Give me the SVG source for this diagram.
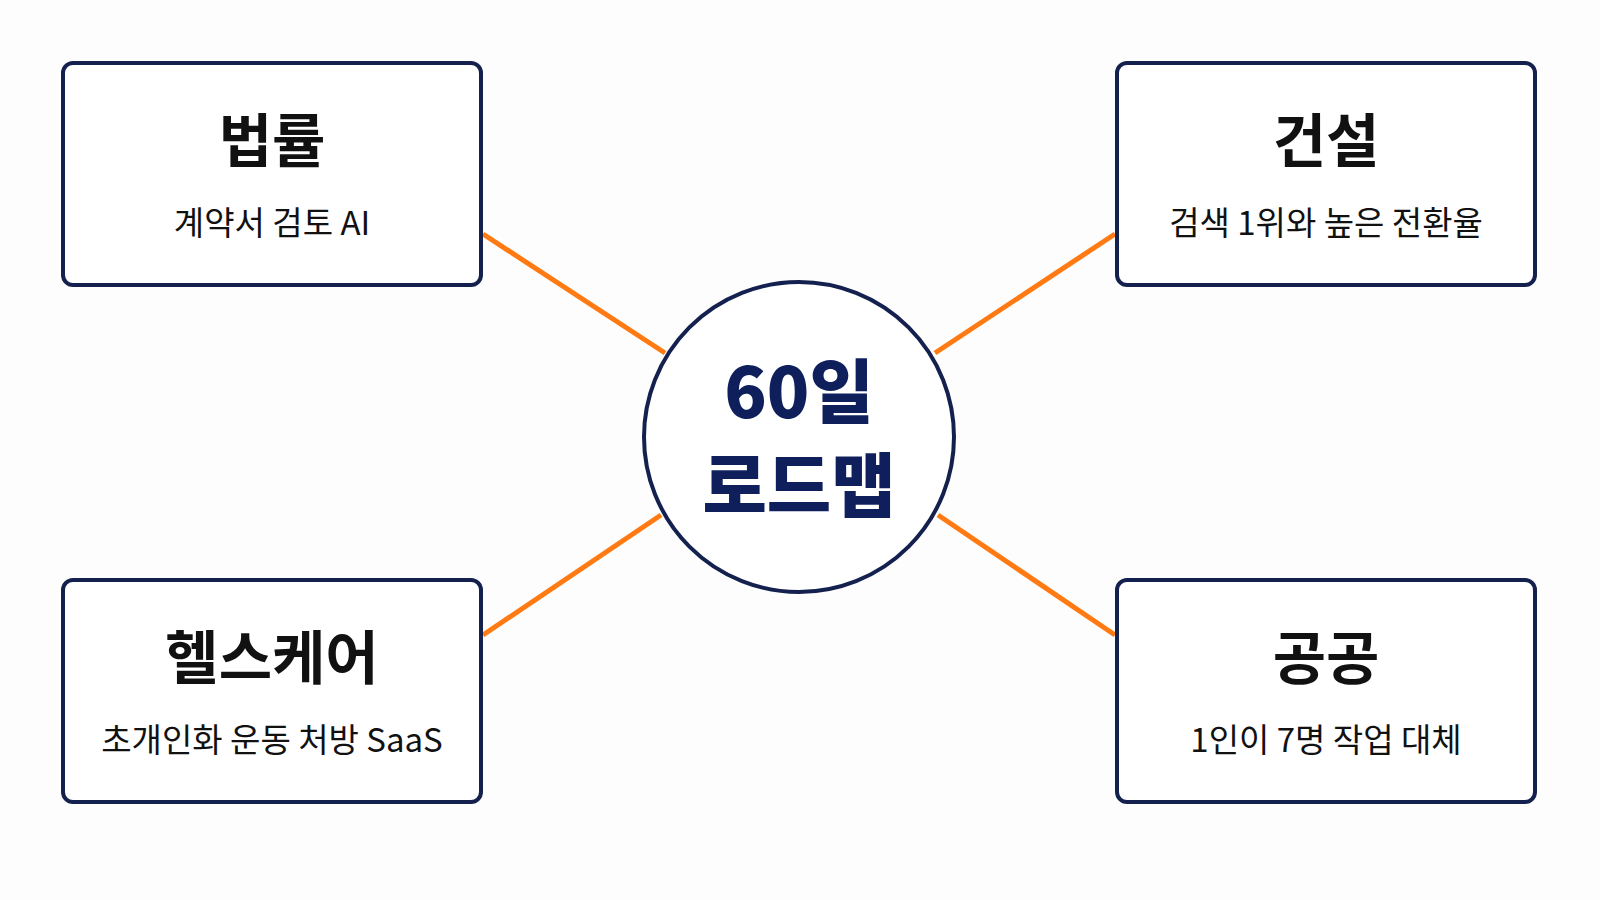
<svg xmlns="http://www.w3.org/2000/svg" width="1600" height="900" viewBox="0 0 1600 900">
<style>
.box{fill:#fff;stroke:#14214f;stroke-width:4}
.t{font-family:"Noto Sans CJK KR","Noto Sans",sans-serif;font-weight:700;font-size:58px;fill:#111;text-anchor:middle}
.s{font-family:"Noto Sans CJK KR","Noto Sans",sans-serif;font-size:33px;fill:#111;text-anchor:middle}
.c{font-family:"Noto Sans CJK KR","Noto Sans",sans-serif;font-weight:900;font-size:70px;fill:#0f1f5c;text-anchor:middle}
.l{stroke:#ff7a12;stroke-width:5}
</style>
<rect width="1600" height="900" fill="#fdfdfd"/>
<g id="connectors">
<line class="l" x1="483" y1="234" x2="665" y2="353"/>
<line class="l" x1="1115" y1="234" x2="935" y2="353"/>
<line class="l" x1="483" y1="635" x2="661" y2="515"/>
<line class="l" x1="1115" y1="635" x2="938" y2="515"/>
</g>
<g id="center">
<circle cx="799" cy="437" r="155" fill="#fff" stroke="#14214f" stroke-width="4"/>
<text class="c" x="799" y="418">60일</text>
<text class="c" x="799" y="512">로드맵</text>
</g>
<g id="law">
<rect class="box" x="63" y="63" width="418" height="222" rx="10"/>
<text class="t" x="272" y="162">법률</text>
<text class="s" x="272" y="235">계약서 검토 AI</text>
</g>
<g id="construction">
<rect class="box" x="1117" y="63" width="418" height="222" rx="10"/>
<text class="t" x="1326" y="162">건설</text>
<text class="s" x="1326" y="235">검색 1위와 높은 전환율</text>
</g>
<g id="healthcare">
<rect class="box" x="63" y="580" width="418" height="222" rx="10"/>
<text class="t" x="272" y="679">헬스케어</text>
<text class="s" x="272" y="752">초개인화 운동 처방 SaaS</text>
</g>
<g id="public">
<rect class="box" x="1117" y="580" width="418" height="222" rx="10"/>
<text class="t" x="1326" y="679">공공</text>
<text class="s" x="1326" y="752">1인이 7명 작업 대체</text>
</g>
</svg>
